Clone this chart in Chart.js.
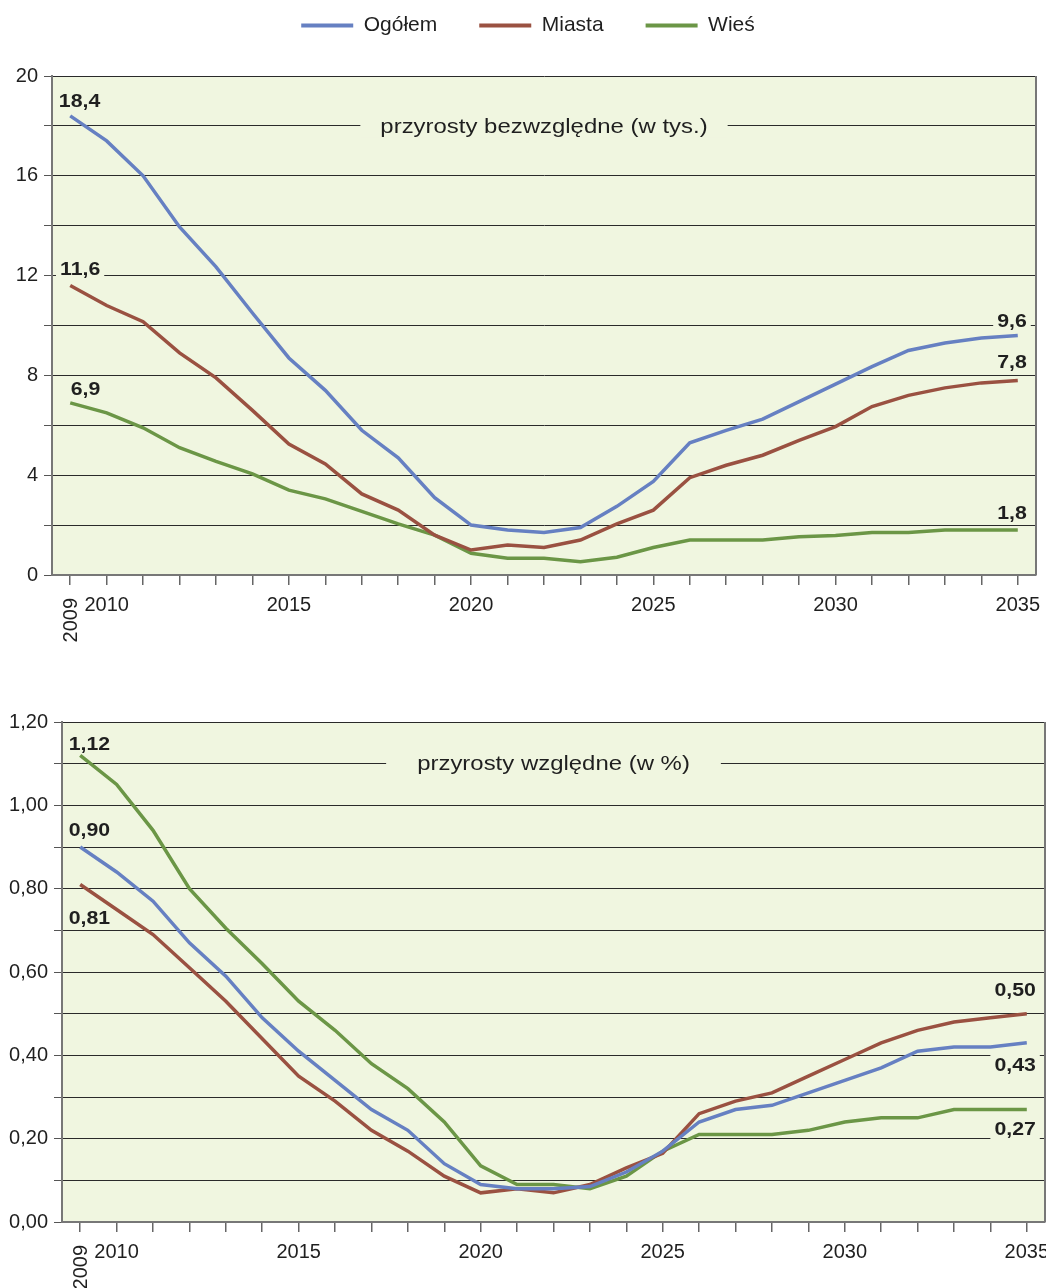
<!DOCTYPE html>
<html><head><meta charset="utf-8">
<script src="https://cdn.jsdelivr.net/npm/chart.js@4.4.1/dist/chart.umd.min.js"></script>
<style>
html,body{margin:0;padding:0;background:#fff;overflow:hidden;width:1046px;height:1288px;position:relative}
#c1{position:absolute;left:0;top:0}
#c2{position:absolute;left:0;top:650px}
</style></head><body>
<canvas id="c1" width="1070" height="650"></canvas>
<canvas id="c2" width="1070" height="638"></canvas>
<script>
const years = [2009,2010,2011,2012,2013,2014,2015,2016,2017,2018,2019,2020,2021,2022,2023,2024,2025,2026,2027,2028,2029,2030,2031,2032,2033,2034,2035];
const seriesNames = ['Ogółem','Miasta','Wieś'];
const absOgolem = [18.4,17.4,16.0,13.95,12.35,10.5,8.7,7.4,5.8,4.7,3.1,2.0,1.8,1.7,1.9,2.75,3.75,5.3,5.8,6.25,6.95,7.65,8.35,9.0,9.3,9.5,9.6];
const absMiasta = [11.6,10.8,10.15,8.9,7.9,6.6,5.25,4.45,3.25,2.6,1.6,1.0,1.2,1.1,1.4,2.05,2.6,3.9,4.4,4.8,5.4,5.95,6.75,7.2,7.5,7.7,7.8];
const absWies = [6.9,6.5,5.9,5.1,4.55,4.05,3.4,3.05,2.55,2.05,1.6,0.87,0.67,0.67,0.53,0.71,1.1,1.4,1.4,1.4,1.53,1.58,1.7,1.7,1.8,1.8,1.8];
const relOgolem = [0.90,0.84,0.77,0.67,0.59,0.49,0.41,0.34,0.27,0.22,0.14,0.09,0.08,0.08,0.085,0.12,0.17,0.24,0.27,0.28,0.31,0.34,0.37,0.41,0.42,0.42,0.43];
const relMiasta = [0.81,0.75,0.69,0.61,0.53,0.44,0.35,0.29,0.22,0.17,0.11,0.07,0.08,0.07,0.09,0.13,0.165,0.26,0.29,0.31,0.35,0.39,0.43,0.46,0.48,0.49,0.50];
const relWies = [1.12,1.05,0.94,0.80,0.705,0.62,0.53,0.46,0.38,0.32,0.24,0.135,0.09,0.09,0.08,0.11,0.17,0.21,0.21,0.21,0.22,0.24,0.25,0.25,0.27,0.27,0.27];
const title1 = 'przyrosty bezwzględne (w tys.)';
const title2 = 'przyrosty względne (w %)';

const FONT = '"Liberation Sans", Arial, sans-serif';
const colors = ['#6680c2','#9a5141','#6b9646'];
const PLOT_BG = '#f0f6e0';
const TEXT = '#1f1f1f';

function fmt(v, dec){ return v.toFixed(dec).replace('.', ','); }

function stretchText(ctx, txt, x, y, sx, align){
  const w = ctx.measureText(txt).width * sx;
  let left = x;
  if (align === 'center') left = x - w/2; else if (align === 'right') left = x - w;
  ctx.save();
  ctx.translate(left, y);
  ctx.scale(sx, 1);
  ctx.textAlign = 'left'; ctx.textBaseline = 'middle';
  ctx.fillText(txt, 0, 0);
  ctx.restore();
  return w;
}

const decoPlugin = {
  id:'deco',
  afterLayout(chart, args, o){
    if (chart.legend && o.legendShift) {
      chart.legend.left += o.legendShift[0]; chart.legend.right += o.legendShift[0];
      chart.legend.top += o.legendShift[1]; chart.legend.bottom += o.legendShift[1];
    }
  },
  beforeDraw(chart, args, o){
    const {ctx, chartArea:a} = chart;
    ctx.save();
    ctx.fillStyle = PLOT_BG;
    ctx.fillRect(a.left, a.top, a.right-a.left, a.bottom-a.top);
    ctx.restore();
  },
  beforeDatasetsDraw(chart, args, o){
    const {ctx, chartArea:a, scales:{x,y}} = chart;
    ctx.save();
    ctx.strokeStyle = '#777'; ctx.lineWidth = 2;
    ctx.beginPath(); ctx.moveTo(a.right, a.top); ctx.lineTo(a.right, a.bottom); ctx.stroke();
    ctx.font = '21px ' + FONT;
    const sx = 1.14;
    const tw = ctx.measureText(o.title).width * sx;
    const cx = (a.left + a.right)/2 + o.titleDx;
    const ty = y.getPixelForValue(o.titleValue);
    ctx.fillStyle = PLOT_BG;
    ctx.fillRect(cx - tw/2 - o.titlePad, ty - 12, tw + 2*o.titlePad, 24);
    ctx.fillStyle = TEXT;
    stretchText(ctx, o.title, cx, ty + 1, sx, 'center');
    ctx.font = 'bold 19px ' + FONT;
    for (const L of o.labels) {
      const v = chart.data.datasets[L.ds].data[L.i];
      const txt = fmt(v, o.dec);
      const w = ctx.measureText(txt).width * 1.12;
      const px = x.getPixelForValue(L.i) + L.dx;
      const py = y.getPixelForValue(v) + L.dy;
      ctx.fillStyle = PLOT_BG;
      ctx.fillRect(px - w - 4, py - 11, w + 8, 22);
      ctx.fillStyle = TEXT;
      stretchText(ctx, txt, px, py + 1, 1.12, 'right');
    }
    ctx.restore();
  },
  afterDraw(chart, args, o){
    const {ctx, chartArea:a, scales:{x}} = chart;
    ctx.save();
    ctx.font = '20px ' + FONT;
    ctx.fillStyle = TEXT;
    ctx.translate(x.getPixelForValue(0) + 1, a.bottom + 23);
    ctx.rotate(-Math.PI/2);
    ctx.textAlign = 'right'; ctx.textBaseline = 'middle';
    ctx.fillText(String(years[0]), 0, 0);
    ctx.restore();
  }
};

function makeChart(id, data, cfg){
  const datasets = data.map((d,k)=>({
    label: seriesNames[k], data: d, borderColor: colors[k], backgroundColor: colors[k],
    borderWidth: 3.5, pointRadius: 0, tension: 0, fill:false
  }));
  return new Chart(document.getElementById(id), {
    type:'line',
    data:{ labels: years.map(String), datasets },
    options:{
      responsive:false, animation:false, devicePixelRatio:1,
      layout:{ padding:{ left: 0, right: cfg.padRight, top: cfg.padTop, bottom: 0 } },
      plugins:{
        tooltip:{enabled:false},
        legend: cfg.legend ? {
          display:true, position:'top',
          labels:{ boxWidth:52, boxHeight:4, padding:cfg.legendPad, color:TEXT, font:{size:21, family:FONT},
            generateLabels: ch => Chart.defaults.plugins.legend.labels.generateLabels(ch).map(l=>({...l, lineWidth:0, fillStyle:l.strokeStyle})) }
        } : {display:false},
        deco: cfg.deco
      },
      scales:{
        x:{
          type:'category', offset:true,
          grid:{ display:true, drawOnChartArea:false, drawTicks:true, tickLength:10, color:'#666', offset:false, lineWidth:1.5 },
          border:{ color:'#777', width:2 },
          ticks:{ autoSkip:false, maxRotation:0, minRotation:0, padding:8, color:TEXT, font:{size:20, family:FONT},
            callback:(v,i)=> years[i] % 5 === 0 ? String(years[i]) : '' },
          afterFit: s => { s.height = cfg.xHeight; }
        },
        y:{
          min:0, max:cfg.yMax,
          ticks:{ stepSize:cfg.yStep, padding:6, color:TEXT, font:{size:20, family:FONT}, callback: cfg.yLabel },
          grid:{ color: c => (c.tick && c.tick.value === 0) ? 'rgba(0,0,0,0)' : '#2a2a2a', lineWidth:1, tickLength:8, tickColor:'#555', drawTicks:true },
          border:{ color:'#777', width:2 },
          afterFit: s => { s.width = cfg.yWidth; }
        }
      }
    },
    plugins:[decoPlugin]
  });
}

makeChart('c1', [absOgolem, absMiasta, absWies], {
  padRight:34, padTop:3, yWidth:52, xHeight:75, yMax:20, yStep:2, legend:true, legendPad:42,
  yLabel: v => (Math.round(v) % 4 === 0 ? String(Math.round(v)) : ''),
  deco:{ legendShift:[10,-30], title:title1, titleValue:18, titleDx:0, titlePad:20, dec:1,
    labels:[
      {ds:0,i:0,dx:30,dy:-15},{ds:1,i:0,dx:30,dy:-17},{ds:2,i:0,dx:30,dy:-14},
      {ds:0,i:26,dx:9,dy:-15},{ds:1,i:26,dx:9,dy:-19},{ds:2,i:26,dx:9,dy:-17}
    ]}
});

makeChart('c2', [relOgolem, relMiasta, relWies], {
  padRight:25, padTop:72, yWidth:62, xHeight:66, yMax:1.2, yStep:0.1, legend:false,
  yLabel: v => (Math.round(v*10) % 2 === 0 ? fmt(v,2) : ''),
  deco:{ title:title2, titleValue:1.1, titleDx:0, titlePad:31, dec:2,
    labels:[
      {ds:2,i:0,dx:30,dy:-12},{ds:0,i:0,dx:30,dy:-17},{ds:1,i:0,dx:30,dy:33},
      {ds:1,i:26,dx:9,dy:-24},{ds:0,i:26,dx:9,dy:22},{ds:2,i:26,dx:9,dy:19}
    ]}
});
</script>
</body></html>
